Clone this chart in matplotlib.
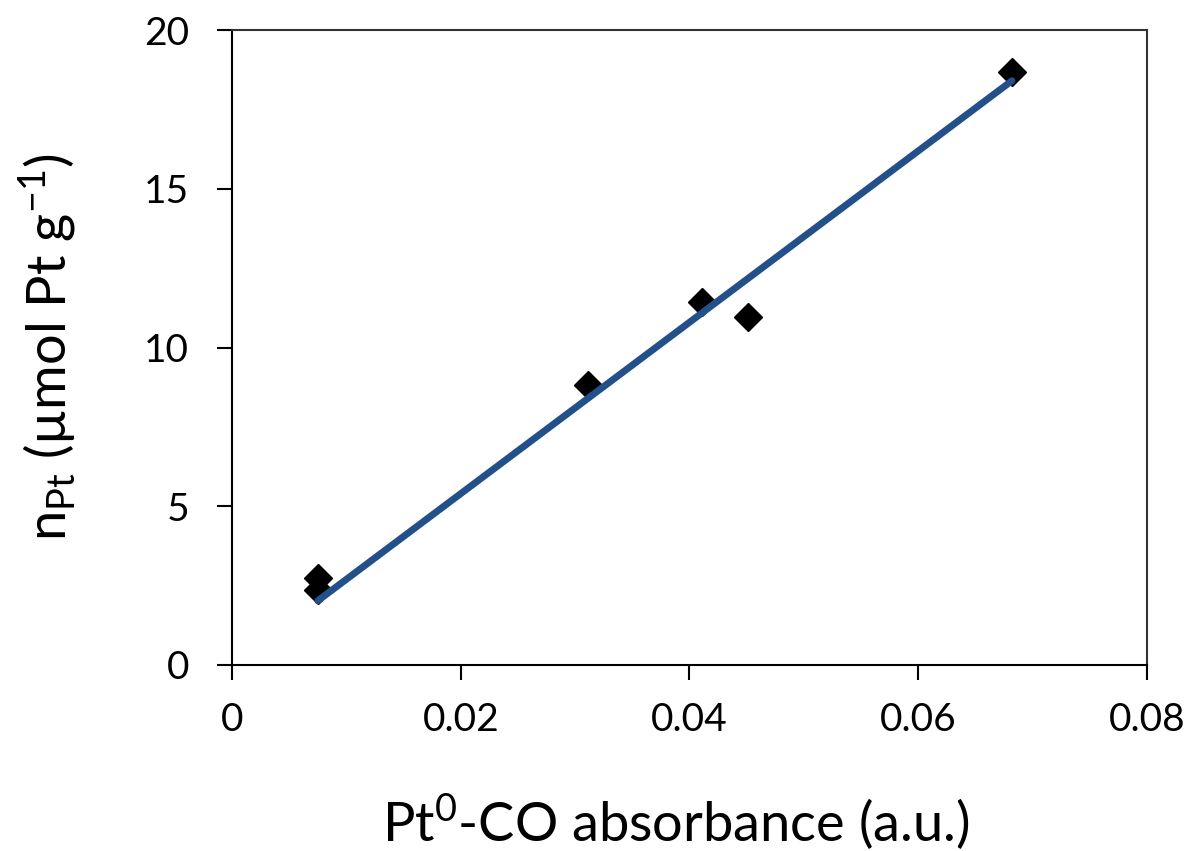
import numpy as np
import matplotlib
matplotlib.use("Agg")
import matplotlib.pyplot as plt

plt.rcParams['font.family'] = ['Lato', 'DejaVu Sans']
plt.rcParams['mathtext.fontset'] = 'custom'
plt.rcParams['mathtext.rm'] = 'Lato'

# data
absorbance = [0.0075, 0.0075, 0.0311, 0.0411, 0.0451, 0.0682]
n_pt = [2.74, 2.36, 8.82, 11.44, 10.95, 18.69]

x_ticks = [0, 0.02, 0.04, 0.06, 0.08]
x_labels = ['0', '0.02', '0.04', '0.06', '0.08']
y_ticks = [0, 5, 10, 15, 20]

# linear fit forced through the origin (trendline over the data range)
xa = np.array(absorbance)
ya = np.array(n_pt)
slope = np.sum(xa * ya) / np.sum(xa * xa)
fit_x = np.array([xa.min(), xa.max()])
fit_y = slope * fit_x

fig = plt.figure(figsize=(11.96, 8.51), dpi=100)
ax = fig.add_axes([0.194, 0.2186, 0.765, 0.7461])

ax.plot(absorbance, n_pt, linestyle='none', marker='D', markersize=14,
        color='black', zorder=2)
ax.plot(fit_x, fit_y, color='#24508a', linewidth=5, solid_capstyle='round', zorder=3)

ax.set_xlim(0, 0.08)
ax.set_ylim(0, 20)
ax.set_xticks(x_ticks)
ax.set_xticklabels(x_labels)
ax.set_yticks(y_ticks)

ax.tick_params(direction='out', length=11, width=1.5, labelsize=28, color='black')
ax.tick_params(axis='x', pad=16)
ax.tick_params(axis='y', pad=20)

for side in ['left', 'bottom']:
    ax.spines[side].set_linewidth(1.5)
    ax.spines[side].set_color('black')
for side in ['top', 'right']:
    ax.spines[side].set_linewidth(1.5)
    ax.spines[side].set_color('#333333')

ax.set_xlabel(r'Pt$^{\mathregular{0}}$-CO absorbance (a.u.)', fontsize=39, va='center')
ax.set_ylabel(r'n$_{\mathregular{Pt}}$ (µmol Pt g$^{\mathregular{-1}}$)', fontsize=39, va='center')
ax.xaxis.set_label_coords((676 - 232) / 915, (665 - 822) / 635)
ax.yaxis.set_label_coords((47 - 232) / 915, 0.5)

fig.savefig('out.png', dpi=100)
